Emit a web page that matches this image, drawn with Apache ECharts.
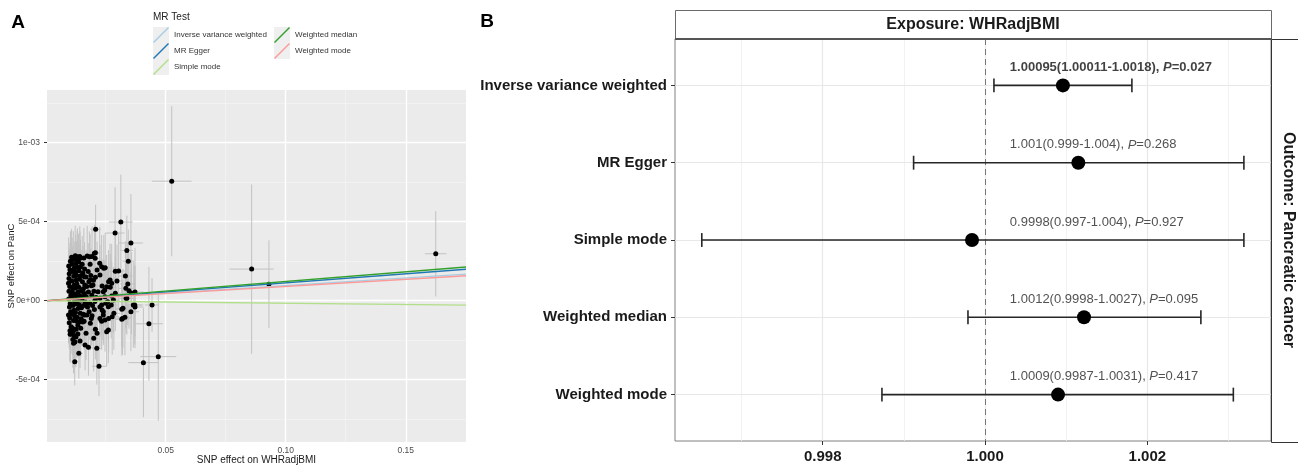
<!DOCTYPE html>
<html><head><meta charset="utf-8">
<script src="https://cdn.jsdelivr.net/npm/echarts@6/dist/echarts.min.js"></script>
<style>html,body{margin:0;padding:0;background:#fff}#c{width:1298px;height:465px}</style>
</head><body><div id="c"></div>
<script>
// ---------- Panel A data: SNP effects (exposure = WHRadjBMI, outcome = PanC) ----------
const snpX = [
 0.0525,0.0858,0.0930,0.1625,0.0407,0.0469,0.0430,0.0443,0.0313,0.0289,0.0355,0.0338,0.0344,0.0208,0.0222,0.0121,0.0138,
 0.0207,0.0182,0.0193,0.0225,0.0242,0.0214,0.0290,0.0304,0.0332,0.0262,0.0297,0.0235,0.0246,0.0269,0.0290,0.0334,0.0207,0.0203,0.0206,0.0233,
 0.0248,0.0226,0.0268,0.0275,0.0342,0.0347,0.0372,0.0254,0.0275,0.0247,0.0338,0.0282,0.0250,0.0233,0.0261,0.0317,0.0365,0.0372,0.0355,0.0330,
 0.0317,0.0240,0.0247,0.0233,0.0261,0.0254,0.0186,0.0207,0.0214,0.0200,0.0213,0.0178,0.0164,0.0143,0.0116,0.0122,0.0134,0.0102,0.0168,0.0277,
 0.0284,0.0322,0.0262,0.0273,0.0235,0.0226,0.0190,0.0162,0.0154,0.0175,0.0206,0.0226,0.0226,0.0240,0.0197,0.0218,0.0185,0.0161,0.0129,0.0143,
 0.0132,0.0240,0.0357,0.0371,0.0335,0.0320,0.0258,0.0115,0.0104,
 0.0096,0.0098,0.0095,0.0097,0.0096,0.0099,0.0095,0.0098,0.0101,0.0097,0.0100,0.0102,0.0104,0.0103,0.0101,0.0105,0.0100,0.0106,
 0.0108,0.0110,0.0112,0.0109,0.0113,0.0111,0.0114,0.0110,0.0116,0.0112,0.0118,0.0115,0.0117,0.0119,0.0116,0.0120,0.0118,0.0121,0.0108,0.0113,0.0119,
 0.0123,0.0125,0.0124,0.0127,0.0123,0.0128,0.0126,0.0124,0.0129,0.0127,0.0131,0.0133,0.0130,0.0134,0.0132,0.0135,0.0131,0.0134,0.0129,0.0126,
 0.0137,0.0139,0.0141,0.0138,0.0143,0.0140,0.0144,0.0139,0.0146,0.0145,0.0148,0.0147,0.0150,0.0149,0.0142,0.0148,
 0.0152,0.0155,0.0153,0.0157,0.0154,0.0158,0.0156,0.0160,0.0162,0.0163,0.0161,0.0165,0.0159,
 0.0168,0.0171,0.0169,0.0174,0.0172,0.0177,0.0180,0.0178,0.0183,0.0181,0.0173,0.0185,
 0.0188,0.0190,0.0192,0.0195,0.0193,0.0199,0.0201,0.0205,0.0203,0.0210
];
const snpY = [
 7.56e-4,2.00e-4,1.04e-4,2.97e-4,-3.92e-4,-3.54e-4,-1.46e-4,-0.27e-4,4.98e-4,4.28e-4,3.65e-4,3.18e-4,2.50e-4,4.52e-4,-4.15e-4,-3.86e-4,-3.33e-4,
 3.04e-4,2.78e-4,2.80e-4,2.37e-4,2.05e-4,1.94e-4,1.86e-4,1.88e-4,1.56e-4,1.20e-4,1.25e-4,0.93e-4,0.68e-4,0.85e-4,0.47e-4,0.78e-4,1.48e-4,3.00e-4,2.68e-4,2.15e-4,
 2.09e-4,1.63e-4,1.31e-4,1.10e-4,1.06e-4,0.63e-4,0.55e-4,0.89e-4,0.30e-4,0.25e-4,0.15e-4,0.04e-4,-0.16e-4,-0.27e-4,-0.38e-4,-0.54e-4,-0.27e-4,-0.40e-4,-0.70e-4,-1.05e-4,
 -1.18e-4,-0.91e-4,-1.22e-4,-1.30e-4,-1.86e-4,-1.96e-4,-1.43e-4,-1.81e-4,-2.06e-4,-2.38e-4,-3.01e-4,-2.95e-4,-2.80e-4,-2.55e-4,-2.70e-4,-2.62e-4,-2.11e-4,-2.13e-4,-2.06e-4,-1.01e-4,
 -0.80e-4,-0.48e-4,-1.12e-4,-0.27e-4,-0.59e-4,-1.12e-4,-1.12e-4,-0.90e-4,-1.35e-4,-0.17e-4,0.04e-4,0.15e-4,-0.40e-4,-0.70e-4,0.99e-4,0.57e-4,1.31e-4,1.52e-4,2.15e-4,2.68e-4,
 2.78e-4,0.57e-4,0.47e-4,-0.27e-4,0.15e-4,-1.12e-4,-0.06e-4,-1.94e-4,-2.10e-4,
 2.20e-4,1.70e-4,1.10e-4,0.60e-4,0.10e-4,-0.40e-4,-0.90e-4,-1.40e-4,-1.90e-4,1.40e-4,0.90e-4,-0.20e-4,-0.70e-4,2.50e-4,1.95e-4,0.35e-4,-1.10e-4,-1.65e-4,
 2.75e-4,2.30e-4,1.85e-4,1.25e-4,0.75e-4,0.20e-4,-0.30e-4,-0.85e-4,-1.25e-4,-1.75e-4,-2.20e-4,2.60e-4,1.55e-4,1.00e-4,0.45e-4,-0.05e-4,-0.60e-4,-1.00e-4,0.55e-4,-2.45e-4,2.05e-4,
 2.85e-4,2.35e-4,1.80e-4,1.30e-4,0.80e-4,0.30e-4,-0.20e-4,-0.75e-4,-1.30e-4,-1.80e-4,2.60e-4,2.10e-4,1.05e-4,0.55e-4,0.00e-4,-0.50e-4,-1.05e-4,-1.55e-4,1.60e-4,-2.30e-4,
 2.45e-4,1.90e-4,1.35e-4,0.85e-4,0.30e-4,-0.25e-4,-0.80e-4,-1.35e-4,-1.75e-4,2.15e-4,1.60e-4,0.60e-4,0.05e-4,-0.45e-4,2.80e-4,-1.15e-4,
 2.30e-4,1.75e-4,1.20e-4,0.75e-4,0.20e-4,-0.30e-4,-0.85e-4,-1.30e-4,2.00e-4,1.00e-4,0.45e-4,-0.10e-4,2.70e-4,
 1.50e-4,0.90e-4,0.25e-4,-0.40e-4,-0.90e-4,1.85e-4,1.20e-4,0.55e-4,-0.15e-4,-0.70e-4,2.83e-4,2.30e-4,
 1.60e-4,0.95e-4,0.35e-4,-0.30e-4,-0.95e-4,1.30e-4,0.60e-4,-0.05e-4,-0.55e-4,0.20e-4
];
const seX = [
 0.0083,0.0092,0.0018,0.0045,0.0063,0.0075,0.0058,0.0030,0.0050,0.0040,0.0050,0.0026,0.0024,0.0022,0.0030,0.0014,0.0016,
 0.0020,0.0018,0.0019,0.0022,0.0024,0.0020,0.0028,0.0026,0.0030,0.0025,0.0027,0.0021,0.0023,0.0025,0.0026,0.0031,0.0019,0.0020,0.0020,0.0023,
 0.0024,0.0021,0.0026,0.0027,0.0032,0.0033,0.0036,0.0023,0.0026,0.0022,0.0030,0.0027,0.0024,0.0022,0.0025,0.0029,0.0035,0.0036,0.0033,0.0031,
 0.0030,0.0022,0.0023,0.0021,0.0025,0.0024,0.0018,0.0020,0.0020,0.0019,0.0021,0.0017,0.0016,0.0015,0.0013,0.0013,0.0014,0.0012,0.0017,0.0027,
 0.0028,0.0030,0.0025,0.0026,0.0022,0.0021,0.0018,0.0016,0.0015,0.0017,0.0020,0.0021,0.0021,0.0023,0.0019,0.0020,0.0018,0.0016,0.0014,0.0015,
 0.0014,0.0023,0.0034,0.0036,0.0031,0.0030,0.0024,0.0012,0.0012,
 0.0011,0.0010,0.0011,0.0010,0.0011,0.0010,0.0011,0.0010,0.0011,0.0010,0.0011,0.0010,0.0011,0.0011,0.0010,0.0011,0.0010,0.0011,
 0.0012,0.0012,0.0012,0.0011,0.0012,0.0012,0.0012,0.0011,0.0012,0.0012,0.0013,0.0012,0.0012,0.0013,0.0012,0.0013,0.0012,0.0013,0.0011,0.0012,0.0013,
 0.0013,0.0013,0.0013,0.0014,0.0013,0.0014,0.0013,0.0013,0.0014,0.0014,0.0014,0.0014,0.0014,0.0014,0.0014,0.0014,0.0014,0.0014,0.0014,0.0013,
 0.0015,0.0015,0.0015,0.0015,0.0015,0.0015,0.0015,0.0015,0.0016,0.0016,0.0016,0.0016,0.0016,0.0016,0.0015,0.0016,
 0.0016,0.0017,0.0016,0.0017,0.0016,0.0017,0.0017,0.0017,0.0017,0.0017,0.0017,0.0018,0.0017,
 0.0018,0.0018,0.0018,0.0018,0.0018,0.0018,0.0019,0.0018,0.0019,0.0019,0.0018,0.0019,
 0.0019,0.0019,0.0019,0.0020,0.0020,0.0020,0.0020,0.0020,0.0020,0.0021
];
const seY = [
 4.75e-4,5.35e-4,2.78e-4,2.70e-4,3.45e-4,4.05e-4,3.60e-4,1.70e-4,3.00e-4,2.90e-4,3.10e-4,2.20e-4,2.00e-4,1.55e-4,1.90e-4,1.50e-4,1.60e-4,
 1.70e-4,1.60e-4,1.90e-4,2.30e-4,2.10e-4,1.80e-4,2.60e-4,2.40e-4,2.20e-4,2.00e-4,2.30e-4,1.70e-4,1.90e-4,2.10e-4,2.40e-4,2.50e-4,1.60e-4,1.80e-4,1.70e-4,2.00e-4,
 2.20e-4,1.90e-4,2.30e-4,2.50e-4,2.60e-4,2.40e-4,2.80e-4,2.00e-4,2.20e-4,1.90e-4,2.30e-4,2.10e-4,2.00e-4,1.80e-4,2.20e-4,2.40e-4,2.70e-4,2.60e-4,2.50e-4,2.40e-4,
 2.30e-4,1.90e-4,2.00e-4,1.80e-4,2.10e-4,2.20e-4,1.70e-4,1.90e-4,2.00e-4,2.10e-4,2.30e-4,1.80e-4,1.60e-4,1.70e-4,1.90e-4,1.60e-4,1.50e-4,1.80e-4,1.70e-4,2.40e-4,
 2.30e-4,2.50e-4,2.20e-4,2.10e-4,1.90e-4,1.80e-4,1.70e-4,1.60e-4,1.50e-4,1.60e-4,1.70e-4,1.80e-4,1.90e-4,2.00e-4,1.60e-4,1.70e-4,1.50e-4,1.40e-4,1.60e-4,1.70e-4,
 1.80e-4,2.00e-4,2.60e-4,2.50e-4,2.20e-4,2.30e-4,2.00e-4,1.60e-4,1.70e-4,
 1.8e-4,1.6e-4,1.7e-4,1.5e-4,1.6e-4,1.7e-4,1.8e-4,1.6e-4,1.9e-4,1.5e-4,1.6e-4,1.5e-4,1.7e-4,1.9e-4,1.7e-4,1.6e-4,1.8e-4,1.7e-4,
 1.8e-4,1.7e-4,1.6e-4,1.5e-4,1.6e-4,1.7e-4,1.5e-4,1.6e-4,1.8e-4,1.7e-4,1.9e-4,1.8e-4,1.5e-4,1.6e-4,1.4e-4,1.5e-4,1.6e-4,1.7e-4,1.5e-4,1.8e-4,1.7e-4,
 1.9e-4,1.8e-4,1.6e-4,1.5e-4,1.6e-4,1.4e-4,1.5e-4,1.6e-4,1.7e-4,1.8e-4,1.8e-4,1.7e-4,1.5e-4,1.4e-4,1.5e-4,1.6e-4,1.7e-4,1.6e-4,1.5e-4,1.9e-4,
 1.8e-4,1.7e-4,1.5e-4,1.6e-4,1.4e-4,1.5e-4,1.6e-4,1.7e-4,1.8e-4,1.7e-4,1.6e-4,1.5e-4,1.6e-4,1.5e-4,1.9e-4,1.7e-4,
 1.8e-4,1.7e-4,1.5e-4,1.6e-4,1.5e-4,1.6e-4,1.7e-4,1.8e-4,1.7e-4,1.6e-4,1.5e-4,1.6e-4,1.9e-4,
 1.7e-4,1.6e-4,1.5e-4,1.7e-4,1.8e-4,1.8e-4,1.7e-4,1.6e-4,1.7e-4,1.8e-4,1.9e-4,1.9e-4,
 1.7e-4,1.6e-4,1.7e-4,1.8e-4,1.9e-4,1.8e-4,1.7e-4,1.8e-4,1.9e-4,1.8e-4
];
const eggerIntercept = -2e-6;

// ---------- Panel B data: MR estimates (OR, 95% CI) ----------
const methods = ['Inverse variance weighted','MR Egger','Simple mode','Weighted median','Weighted mode'];
const methodColors = ['#a6cee3','#1f78b4','#b2df8a','#33a02c','#fb9a99'];
const orEst  = [1.00096, 1.00115, 0.99984, 1.00122, 1.00090];
const orLow  = [1.00011, 0.99912, 0.99651, 0.99979, 0.99873];
const orHigh = [1.00181, 1.00319, 1.00319, 1.00266, 1.00306];
const ciText = ['1.00095(1.00011-1.0018)','1.001(0.999-1.004)','0.9998(0.997-1.004)','1.0012(0.9998-1.0027)','1.0009(0.9987-1.0031)'];
const pText  = ['0.027','0.268','0.927','0.095','0.417'];

// ---------- Axis ticks ----------
const xTicksA = [0.05, 0.10, 0.15];
const xMinorA = [0.025, 0.075, 0.125];
const yTicksA = [-5e-4, 0, 5e-4, 1e-3];
const yTickLabelsA = ['-5e-04','0e+00','5e-04','1e-03'];
const yMinorA = [-7.5e-4, -2.5e-4, 2.5e-4, 7.5e-4, 1.25e-3];
const xTicksB = [0.998, 1.000, 1.002];
const xMinorB = [0.997, 0.999, 1.001, 1.003];

// ---------- Layout / style ----------
const FONT = '"Liberation Sans", Arial, Helvetica, sans-serif';
const xMinA = 0.00054, xMaxA = 0.1751, yMinA = -0.000894, yMaxA = 0.001333;
const xMinB = 0.99618, xMaxB = 1.003524;
const labelX = 1.0003, labelLift = 0.23, capHalf = 0.09;

const chart = echarts.init(document.getElementById('c'), null, {renderer: 'canvas'});

function mlx(vals, color, width, type) { return vals.map(v => ({xAxis: v, lineStyle: {color, width, type: type || 'solid'}})); }
function mly(vals, color, width) { return vals.map(v => ({yAxis: v, lineStyle: {color, width, type: 'solid'}})); }

const diagIcon = 'path://M0,15L15,0L16,1L1,16Z';

const lineSeries = methods.map((m, i) => {
  const slope = Math.log(orEst[i]);
  const b = (m === 'MR Egger') ? eggerIntercept : 0;
  return {
    name: m, type: 'line', xAxisIndex: 0, yAxisIndex: 0, z: 5,
    color: methodColors[i], itemStyle: {color: methodColors[i]},
    showSymbol: false, symbol: 'none', silent: true,
    lineStyle: {color: methodColors[i], width: 1.4},
    data: [[xMinA, b + slope * xMinA], [xMaxA, b + slope * xMaxA]]
  };
});

const option = {
  animation: false,
  backgroundColor: '#fff',
  textStyle: {fontFamily: FONT},
  grid: [
    {left: 47, top: 90, width: 419, height: 352, outerBoundsMode: 'none', containLabel: false, show: true, backgroundColor: '#ebebeb', borderWidth: 0},
    {left: 675, top: 39, width: 596, height: 402, outerBoundsMode: 'none', containLabel: false, show: true, backgroundColor: '#fff', borderColor: '#808080', borderWidth: 1}
  ],
  xAxis: [
    {gridIndex: 0, type: 'value', min: xMinA, max: xMaxA,
     axisLine: {show: false}, splitLine: {show: false},
     axisTick: {show: true, customValues: xTicksA, length: 3, lineStyle: {color: '#333'}},
     axisLabel: {customValues: xTicksA, formatter: v => v.toFixed(2), fontSize: 8.5, color: '#4d4d4d', margin: 4, fontFamily: FONT},
     name: 'SNP effect on WHRadjBMI', nameLocation: 'middle', nameGap: 13.5, nameMoveOverlap: false,
     nameTextStyle: {fontSize: 10, color: '#1a1a1a', fontFamily: FONT}},
    {gridIndex: 1, type: 'value', min: xMinB, max: xMaxB,
     axisLine: {show: false}, splitLine: {show: false},
     axisTick: {show: true, customValues: xTicksB, length: 4, lineStyle: {color: '#333'}},
     axisLabel: {customValues: xTicksB, formatter: v => v.toFixed(3), fontSize: 15, fontWeight: 'bold', color: '#1a1a1a', margin: 8, fontFamily: FONT}}
  ],
  yAxis: [
    {gridIndex: 0, type: 'value', min: yMinA, max: yMaxA,
     axisLine: {show: false}, splitLine: {show: false},
     axisTick: {show: true, customValues: yTicksA, length: 3, lineStyle: {color: '#333'}},
     axisLabel: {customValues: yTicksA, fontSize: 8.5, color: '#4d4d4d', margin: 7, fontFamily: FONT,
       formatter: v => { let k = 0; yTicksA.forEach((t, j) => { if (Math.abs(t - v) < Math.abs(yTicksA[k] - v)) k = j; }); return yTickLabelsA[k]; }},
     name: 'SNP effect on PanC', nameLocation: 'middle', nameGap: 30.5, nameRotate: 90, nameMoveOverlap: false,
     nameTextStyle: {fontSize: 9.5, color: '#1a1a1a', fontFamily: FONT}},
    {gridIndex: 1, type: 'value', min: 0.4, max: 5.6, inverse: true,
     axisLine: {show: false}, splitLine: {show: false},
     axisTick: {show: true, customValues: [1, 2, 3, 4, 5], length: 4, lineStyle: {color: '#333'}},
     axisLabel: {customValues: [1, 2, 3, 4, 5], formatter: v => methods[Math.round(v) - 1], fontSize: 15, fontWeight: 'bold', color: '#1a1a1a', margin: 8, fontFamily: FONT}}
  ],
  legend: [
    {left: 153, top: 27, orient: 'vertical', padding: 0, itemGap: 0, itemWidth: 16, itemHeight: 16, selectedMode: false,
     icon: diagIcon, data: methods.slice(0, 3), textStyle: {fontSize: 8, color: '#333', fontFamily: FONT}},
    {left: 274, top: 27, orient: 'vertical', padding: 0, itemGap: 0, itemWidth: 16, itemHeight: 16, selectedMode: false,
     icon: diagIcon, data: methods.slice(3), textStyle: {fontSize: 8, color: '#333', fontFamily: FONT}}
  ],
  series: [
    // panel A grid lines
    {name: 'gridA', type: 'line', xAxisIndex: 0, yAxisIndex: 0, data: [], z: 1, silent: true,
     markLine: {silent: true, z: 1, precision: 12, symbol: ['none', 'none'], label: {show: false}, animation: false,
       data: [].concat(mlx(xMinorA, '#f4f4f4', 0.8), mly(yMinorA, '#f4f4f4', 0.8), mlx(xTicksA, '#ffffff', 1.4), mly(yTicksA, '#ffffff', 1.4))}},
    // panel A error bars
    {name: 'errA', type: 'custom', xAxisIndex: 0, yAxisIndex: 0, z: 2, silent: true, clip: true,
     data: snpX.map((x, i) => [x, snpY[i], seX[i], seY[i]]),
     encode: {x: 0, y: 1},
     renderItem: (params, api) => {
       const x = api.value(0), y = api.value(1), sx = api.value(2), sy = api.value(3);
       const v1 = api.coord([x, y - sy]), v2 = api.coord([x, y + sy]);
       const h1 = api.coord([x - sx, y]), h2 = api.coord([x + sx, y]);
       const st = {stroke: '#c2c2c2', lineWidth: 1};
       return {type: 'group', children: [
         {type: 'line', shape: {x1: v1[0], y1: v1[1], x2: v2[0], y2: v2[1]}, style: st},
         {type: 'line', shape: {x1: h1[0], y1: h1[1], x2: h2[0], y2: h2[1]}, style: st}
       ]};
     }},
    // panel A points
    {name: 'snpA', type: 'scatter', xAxisIndex: 0, yAxisIndex: 0, z: 3, silent: true,
     symbolSize: 5, itemStyle: {color: '#000', opacity: 1},
     data: snpX.map((x, i) => [x, snpY[i]])},
    ...lineSeries,
    // panel B grid lines + reference line
    {name: 'gridB', type: 'line', xAxisIndex: 1, yAxisIndex: 1, data: [], z: 1, silent: true,
     markLine: {silent: true, z: 1, precision: 12, symbol: ['none', 'none'], label: {show: false}, animation: false,
       data: [].concat(mlx(xMinorB, '#efefef', 0.8), mlx(xTicksB, '#e8e8e8', 1.2), mly([1, 2, 3, 4, 5], '#e8e8e8', 1.2),
                       mlx([1.0], '#777777', 1, [6, 4]))}},
    // panel B error bars
    {name: 'ciB', type: 'custom', xAxisIndex: 1, yAxisIndex: 1, z: 3, silent: true,
     data: methods.map((m, i) => [orLow[i], orHigh[i], i + 1]),
     encode: {x: [0, 1], y: 2},
     renderItem: (params, api) => {
       const lo = api.value(0), hi = api.value(1), r = api.value(2);
       const a = api.coord([lo, r]), b = api.coord([hi, r]);
       const a1 = api.coord([lo, r - capHalf]), a2 = api.coord([lo, r + capHalf]);
       const b1 = api.coord([hi, r - capHalf]), b2 = api.coord([hi, r + capHalf]);
       const st = {stroke: '#262626', lineWidth: 1.6};
       return {type: 'group', children: [
         {type: 'line', shape: {x1: a[0], y1: a[1], x2: b[0], y2: b[1]}, style: st},
         {type: 'line', shape: {x1: a1[0], y1: a1[1], x2: a2[0], y2: a2[1]}, style: st},
         {type: 'line', shape: {x1: b1[0], y1: b1[1], x2: b2[0], y2: b2[1]}, style: st}
       ]};
     }},
    // panel B points
    {name: 'orB', type: 'scatter', xAxisIndex: 1, yAxisIndex: 1, z: 4, silent: true,
     symbolSize: 14, itemStyle: {color: '#000', opacity: 1},
     data: methods.map((m, i) => [orEst[i], i + 1])},
    // panel B text labels
    {name: 'txtB', type: 'scatter', xAxisIndex: 1, yAxisIndex: 1, z: 5, silent: true,
     symbolSize: 1, itemStyle: {color: 'rgba(0,0,0,0)'},
     data: methods.map((m, i) => [labelX, i + 1 - labelLift]),
     label: {show: true, position: 'right', distance: 0, color: '#222',
       formatter: p => { const i = p.dataIndex;
         return i === 0 ? '{b|' + ciText[i] + ', }{bi|P}{b|=' + pText[i] + '}'
                        : '{n|' + ciText[i] + ', }{ni|P}{n|=' + pText[i] + '}'; },
       rich: {
         n: {fontSize: 13, color: '#262626', fontFamily: FONT},
         ni: {fontSize: 13, color: '#262626', fontFamily: FONT, fontStyle: 'italic'},
         b: {fontSize: 13, color: '#111', fontFamily: FONT, fontWeight: 'bold'},
         bi: {fontSize: 13, color: '#111', fontFamily: FONT, fontWeight: 'bold', fontStyle: 'italic'}
       }}}
  ],
  graphic: [
    {type: 'text', x: 18, y: 23, z: 10, style: {text: 'A', font: 'bold 19px ' + FONT, align: 'center', verticalAlign: 'middle', fill: '#000'}},
    {type: 'text', x: 487, y: 22, z: 10, style: {text: 'B', font: 'bold 19px ' + FONT, align: 'center', verticalAlign: 'middle', fill: '#000'}},
    {type: 'text', x: 153, y: 17, z: 10, style: {text: 'MR Test', font: '10px ' + FONT, align: 'left', verticalAlign: 'middle', fill: '#222'}},
    {type: 'rect', z: 0, shape: {x: 153, y: 27, width: 16, height: 16}, style: {fill: '#efefef'}},
    {type: 'rect', z: 0, shape: {x: 153, y: 43, width: 16, height: 16}, style: {fill: '#efefef'}},
    {type: 'rect', z: 0, shape: {x: 153, y: 59, width: 16, height: 16}, style: {fill: '#efefef'}},
    {type: 'rect', z: 0, shape: {x: 274, y: 27, width: 16, height: 16}, style: {fill: '#efefef'}},
    {type: 'rect', z: 0, shape: {x: 274, y: 43, width: 16, height: 16}, style: {fill: '#efefef'}},
    {type: 'rect', z: 10, shape: {x: 675.5, y: 10.5, width: 596, height: 28.5}, style: {fill: '#fff', stroke: '#6a6a6a', lineWidth: 1}},
    {type: 'line', z: 11, shape: {x1: 675, y1: 39, x2: 1272, y2: 39}, style: {stroke: '#555', lineWidth: 2}},
    {type: 'text', x: 973, y: 25, z: 11, style: {text: 'Exposure: WHRadjBMI', font: 'bold 16px ' + FONT, align: 'center', verticalAlign: 'middle', fill: '#1a1a1a'}},
    {type: 'rect', z: 10, shape: {x: 1271.5, y: 39.5, width: 40, height: 403}, style: {fill: '#fff', stroke: '#333', lineWidth: 1}},
    {type: 'text', x: 1288, y: 240, z: 11, rotation: -Math.PI / 2, style: {text: 'Outcome: Pancreatic cancer', font: 'bold 16px ' + FONT, align: 'center', verticalAlign: 'middle', fill: '#1a1a1a'}}
  ]
};
chart.setOption(option);
</script></body></html>
